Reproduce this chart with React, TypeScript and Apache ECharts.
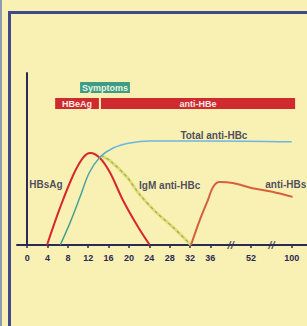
import React, { useEffect, useRef } from "react";
import * as echarts from "echarts";

// weeks after exposure
const tickWeeks = [0, 4, 8, 12, 16, 20, 24, 28, 32, 36, 52, 100];

const hbsAg: [number, number][] = [
  [3.9, 0], [6.5, 22], [9.1, 41], [11, 50.8], [12.4, 53.5], [14.3, 50.6],
  [16.3, 42], [18.8, 26.2], [21.8, 10.5], [24.1, 0],
];
const totalAntiHBc: [number, number][] = [
  [6.5, 0], [8.4, 12.8], [10.4, 28], [12.2, 42], [14.3, 51], [16.9, 56.4],
  [20.2, 59.3], [24, 60.5], [36, 60.5], [100, 60],
];
const igmAntiHBc: [number, number][] = [
  [14.5, 52], [16.3, 49], [19.6, 39.5], [22.2, 29], [25.5, 18.6], [28.6, 10.5],
  [32.2, 0],
];
const antiHBs: [number, number][] = [
  [32.2, 0], [34, 15], [35.5, 26], [37.2, 34], [39.6, 36.6], [44.8, 36],
  [53.8, 33], [77, 31], [101, 28],
];
// [label, startWeek, endWeek, row]
const phases: [string, number, number, number][] = [
  ["Symptoms", 10.4, 20.2, 0],
  ["HBeAg", 5.5, 14.1, 1],
  ["anti-HBe", 14.5, 104, 1],
];

// broken time axis: 0-36 linear, 36-52 and 52-100 compressed
const weekToPos = (w: number) =>
  w <= 36 ? w : w <= 52 ? 36 + (w - 36) / 2 : 44 + (w - 52) / 6;
const conv = (arr: [number, number][]) => arr.map(([w, v]) => [weekToPos(w), v]);

const tickPos = tickWeeks.map(weekToPos);
const breakPos = [40, 48];

const annotations = [
  { name: "Total anti-HBc", week: 37.4, value: 63.4 },
  { name: "HBsAg", week: 3.7, value: 35 },
  { name: "IgM anti-HBc", week: 28, value: 34.4 },
  { name: "anti-HBs", week: 93, value: 35 },
];

const rowBands: [number, number][] = [
  [94.8, 88.4],
  [85.5, 79],
];

export default function App() {
  const ref = useRef<HTMLDivElement>(null);
  useEffect(() => {
    if (!ref.current) return;
    const chart = echarts.init(ref.current, null, { renderer: "svg" });
    const navy = "#2b2a55";
    const font = "Liberation Sans, Arial, sans-serif";
    chart.setOption({
      animation: false,
      backgroundColor: "#f9f0b4",
      grid: { left: 17, right: 0, top: 73, bottom: 81 },
      graphic: [
        { type: "line", shape: { x1: 1, y1: 0, x2: 1, y2: 326 }, style: { stroke: "#8f9ab0", lineWidth: 2 } },
        { type: "polyline", shape: { points: [[9.5, 326], [9.5, 12.5], [307, 12.5]] }, style: { stroke: "#3d4a8c", lineWidth: 3, fill: null } },
      ],
      xAxis: {
        type: "value",
        min: -2,
        max: 55,
        splitLine: { show: false },
        axisLine: { show: true, lineStyle: { color: navy, width: 2 } },
        axisTick: { show: true, customValues: tickPos, length: 3, lineStyle: { color: navy, width: 1.5 } },
        axisLabel: {
          customValues: tickPos,
          margin: 8,
          fontSize: 9,
          fontWeight: "bold",
          fontFamily: font,
          color: navy,
          formatter: (v: number) => {
            const i = tickPos.findIndex((p) => Math.abs(p - v) < 1e-6);
            return i >= 0 ? String(tickWeeks[i]) : "";
          },
        },
      },
      yAxis: {
        type: "value",
        min: 0,
        max: 100,
        splitLine: { show: false },
        axisTick: { show: false },
        axisLabel: { show: false },
        axisLine: { show: true, lineStyle: { color: navy, width: 2 } },
      },
      series: [
        {
          type: "custom",
          renderItem: (params: any, api: any) => {
            const s = api.value(0), e = api.value(1), row = api.value(2);
            const [t, b] = rowBands[row];
            const p1 = api.coord([s, t]);
            const p2 = api.coord([e, b]);
            const label = phases[params.dataIndex][0];
            const isSym = row === 0;
            return {
              type: "group",
              children: [
                {
                  type: "rect",
                  shape: { x: p1[0], y: p1[1], width: p2[0] - p1[0], height: p2[1] - p1[1] },
                  style: { fill: isSym ? "#3e9c85" : "#cf2a2e" },
                },
                {
                  type: "text",
                  style: {
                    text: label,
                    x: (p1[0] + p2[0]) / 2,
                    y: (p1[1] + p2[1]) / 2 + 0.5,
                    align: "center",
                    verticalAlign: "middle",
                    fill: isSym ? "#e6f4e0" : "#f4e8e8",
                    font: `bold 9px ${font}`,
                  },
                },
              ],
            };
          },
          data: phases.map(([, s, e, r]) => [weekToPos(s), weekToPos(e), r]),
          z: 5,
        },
        {
          name: "HBsAg",
          type: "line",
          data: conv(hbsAg),
          smooth: 0.35,
          symbol: "none",
          lineStyle: { color: "#d8262a", width: 2 },
          z: 3,
        },
        {
          name: "Total anti-HBc",
          type: "line",
          data: conv(totalAntiHBc),
          smooth: 0.35,
          symbol: "none",
          lineStyle: {
            width: 1.5,
            color: new echarts.graphic.LinearGradient(0, 0, 1, 0, [
              { offset: 0, color: "#3d9a84" },
              { offset: 0.13, color: "#4fa4a8" },
              { offset: 0.25, color: "#6cb6e0" },
              { offset: 1, color: "#6cb6e0" },
            ]),
          },
          z: 4,
        },
        {
          name: "IgM anti-HBc",
          type: "line",
          data: conv(igmAntiHBc),
          smooth: 0.3,
          symbol: "none",
          lineStyle: { color: "#dcdc78", width: 3 },
          z: 2,
        },
        {
          name: "IgM anti-HBc dashes",
          type: "line",
          data: conv(igmAntiHBc),
          smooth: 0.3,
          symbol: "none",
          lineStyle: { color: "#a8ae4a", width: 1.2, type: [3, 3] },
          z: 2,
        },
        {
          name: "anti-HBs",
          type: "line",
          data: conv(antiHBs),
          smooth: 0.35,
          symbol: "none",
          lineStyle: { color: "#d6603c", width: 2 },
          z: 3,
        },
        {
          name: "labels",
          type: "scatter",
          symbolSize: 0,
          silent: true,
          data: annotations.map((a) => ({ name: a.name, value: [weekToPos(a.week), a.value] })),
          label: {
            show: true,
            position: "inside",
            formatter: (p: any) => p.name,
            fontSize: 10,
            fontWeight: "bold",
            fontFamily: font,
            color: "#222244",
          },
          z: 6,
        },
        {
          name: "breaks",
          type: "scatter",
          symbolSize: 0,
          silent: true,
          data: breakPos.map((p) => [p, 0]),
          label: {
            show: true,
            position: "inside",
            formatter: "//",
            fontSize: 11,
            fontWeight: "bold",
            fontStyle: "italic",
            fontFamily: font,
            color: navy,
          },
          z: 6,
        },
      ],
    });
    return () => chart.dispose();
  }, []);
  return (
    <div
      ref={ref}
      style={{ position: "fixed", left: 0, top: 0, width: 307, height: 326 }}
    />
  );
}
